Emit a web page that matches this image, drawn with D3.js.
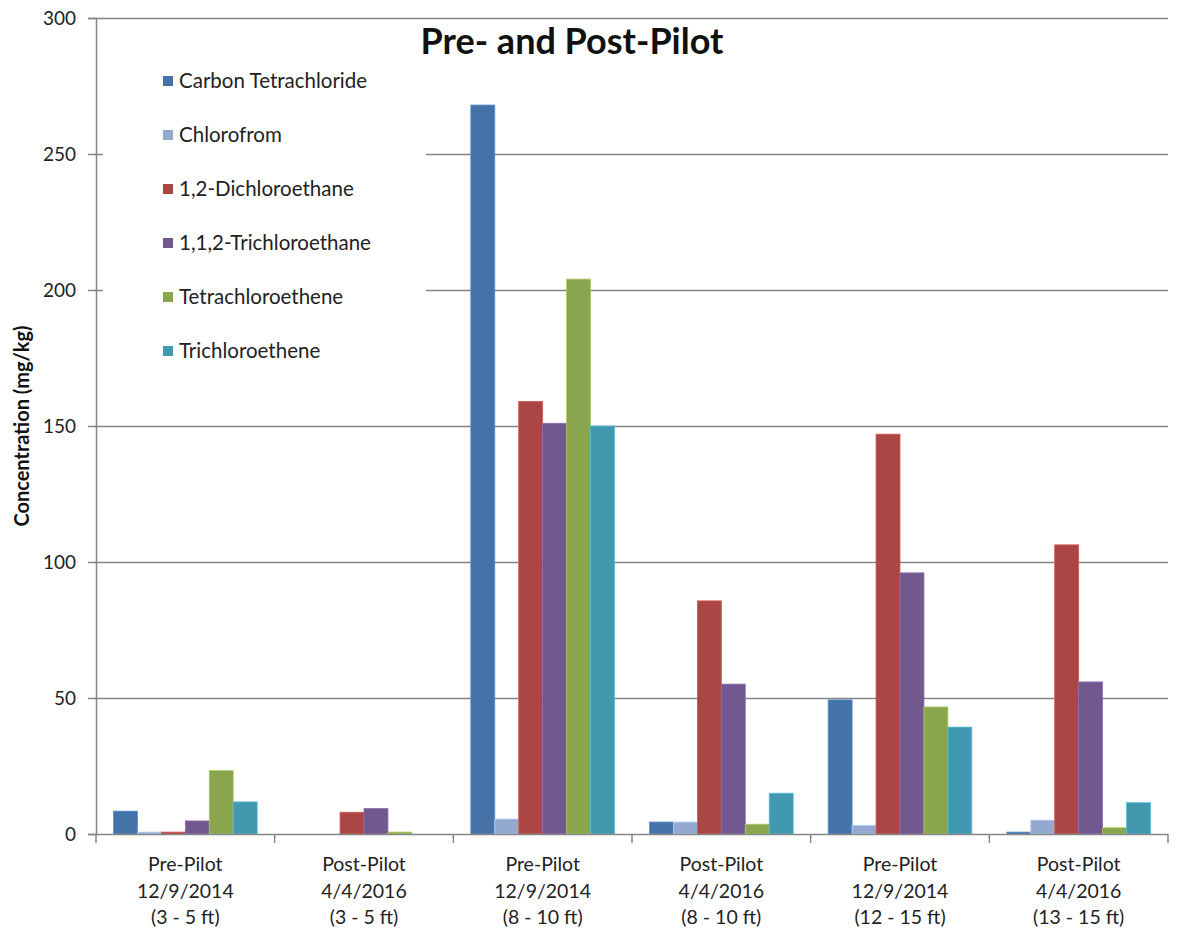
<!DOCTYPE html>
<html>
<head>
<meta charset="utf-8">
<script src="https://cdn.jsdelivr.net/npm/d3@7"></script>
<style>
  html, body { margin: 0; padding: 0; background: #fff; }
  svg { display: block; font-family: Lato, "Open Sans", sans-serif; }
</style>
</head>
<body>
<svg id="chart" width="1188" height="944"></svg>
<script>
// Sampling events (three text lines each)
const categories = [
  ["Pre-Pilot", "12/9/2014", "(3 - 5 ft)"],
  ["Post-Pilot", "4/4/2016", "(3 - 5 ft)"],
  ["Pre-Pilot", "12/9/2014", "(8 - 10 ft)"],
  ["Post-Pilot", "4/4/2016", "(8 - 10 ft)"],
  ["Pre-Pilot", "12/9/2014", "(12 - 15 ft)"],
  ["Post-Pilot", "4/4/2016", "(13 - 15 ft)"]
];

const seriesNames = [
  "Carbon Tetrachloride",
  "Chlorofrom",
  "1,2-Dichloroethane",
  "1,1,2-Trichloroethane",
  "Tetrachloroethene",
  "Trichloroethene"
];

// Concentrations in mg/kg, one array per compound
const carbonTetrachloride = [8.4, 0, 268, 4.4, 49.3, 0.7];
const chloroform          = [0.7, 0, 5.5, 4.4, 3.2, 5.1];
const dichloroethane12    = [0.7, 8.0, 159, 85.7, 147, 106.3];
const trichloroethane112  = [4.8, 9.4, 151, 55.1, 96, 55.9];
const tetrachloroethene   = [23.3, 0.7, 204, 3.6, 46.7, 2.3];
const trichloroethene     = [11.8, 0, 150, 15.0, 39.3, 11.5];

const seriesValues = [
  carbonTetrachloride, chloroform, dichloroethane12,
  trichloroethane112, tetrachloroethene, trichloroethene
];

const yTicks = [0, 50, 100, 150, 200, 250, 300];

const colors = ["#4572A7", "#93A9D0", "#AA4643", "#71588F", "#89A54E", "#4198AF"];

const svg = d3.select("#chart");
const plotLeft = 96, plotRight = 1168, plotTop = 18, plotBottom = 834;

const x0 = d3.scaleBand().domain(d3.range(categories.length)).range([plotLeft, plotRight]).padding(0);
const x1 = d3.scaleBand().domain(d3.range(seriesNames.length))
  .range([17.5, x0.bandwidth() - 17.5]).padding(0);
const y = d3.scaleLinear().domain([0, 300]).range([plotBottom, plotTop]);

const axisColor = "#868686";

// Horizontal gridlines
svg.append("g").selectAll("line").data(yTicks.filter(t => t > 0)).join("line")
  .attr("x1", plotLeft).attr("x2", plotRight)
  .attr("y1", d => Math.round(y(d)) + 0.5).attr("y2", d => Math.round(y(d)) + 0.5)
  .attr("stroke", axisColor).attr("stroke-width", 1.5);

// Legend background box covering gridlines
svg.append("rect").attr("x", 103).attr("y", 40).attr("width", 323).attr("height", 330).attr("fill", "#fff");

// Bars
const groups = svg.append("g").selectAll("g").data(categories).join("g")
  .attr("transform", (d, i) => `translate(${x0(i)},0)`);
groups.selectAll("rect")
  .data((d, i) => seriesValues.map((vals, s) => ({ s, v: vals[i] })))
  .join("rect")
  .attr("x", d => x1(d.s))
  .attr("width", x1.bandwidth())
  .attr("y", d => y(d.v))
  .attr("height", d => plotBottom - y(d.v))
  .attr("fill", d => colors[d.s])
  .attr("stroke", d => d.v > 0 ? d3.color(colors[d.s]).brighter(0.6) : "none")
  .attr("stroke-width", 0.8);

// Y axis
const yAxis = svg.append("g").attr("transform", `translate(${plotLeft},0)`)
  .call(d3.axisLeft(y).tickValues(yTicks).tickSize(8).tickPadding(12));
yAxis.select(".domain").attr("stroke", axisColor).attr("stroke-width", 1.5);
yAxis.selectAll(".tick line").attr("stroke", axisColor).attr("stroke-width", 1.5);
yAxis.selectAll(".tick text").attr("font-size", 19).attr("fill", "#222")
  .attr("font-family", "Lato, sans-serif");

// X axis with ticks at group boundaries
const xAxisG = svg.append("g");
xAxisG.append("line").attr("x1", plotLeft).attr("x2", plotRight)
  .attr("y1", plotBottom + 0.5).attr("y2", plotBottom + 0.5)
  .attr("stroke", axisColor).attr("stroke-width", 1.5);
xAxisG.selectAll("line.tk").data(d3.range(categories.length + 1)).join("line")
  .attr("class", "tk")
  .attr("x1", i => i < categories.length ? x0(i) : plotRight)
  .attr("x2", i => i < categories.length ? x0(i) : plotRight)
  .attr("y1", plotBottom).attr("y2", plotBottom + 9)
  .attr("stroke", axisColor).attr("stroke-width", 1.5);

const labelG = svg.append("g").selectAll("text").data(categories).join("text")
  .attr("text-anchor", "middle")
  .attr("font-size", 19.5)
  .attr("fill", "#222");
labelG.selectAll("tspan").data((d, i) => d.map(t => ({ t, i }))).join("tspan")
  .attr("x", d => x0(d.i) + x0.bandwidth() / 2)
  .attr("y", (d, j) => 871 + j * 26.5)
  .text(d => d.t);

// Y axis title
svg.append("text")
  .attr("transform", "translate(29,426) rotate(-90)")
  .attr("text-anchor", "middle")
  .attr("font-size", 20).attr("font-weight", "bold").attr("fill", "#111")
  .text("Concentration (mg/kg)");

// Chart title
svg.append("text")
  .attr("x", 572).attr("y", 54)
  .attr("text-anchor", "middle")
  .attr("font-size", 36).attr("font-weight", "bold").attr("fill", "#111")
  .text("Pre- and Post-Pilot");

// Legend
const legend = svg.append("g").selectAll("g").data(seriesNames).join("g")
  .attr("transform", (d, i) => `translate(163,${81 + i * 54})`);
legend.append("rect").attr("x", 0).attr("y", -5).attr("width", 10).attr("height", 10)
  .attr("fill", (d, i) => colors[i]);
legend.append("text").attr("x", 16).attr("y", 7)
  .attr("font-size", 20.5).attr("fill", "#222")
  .text(d => d);
</script>
</body>
</html>
